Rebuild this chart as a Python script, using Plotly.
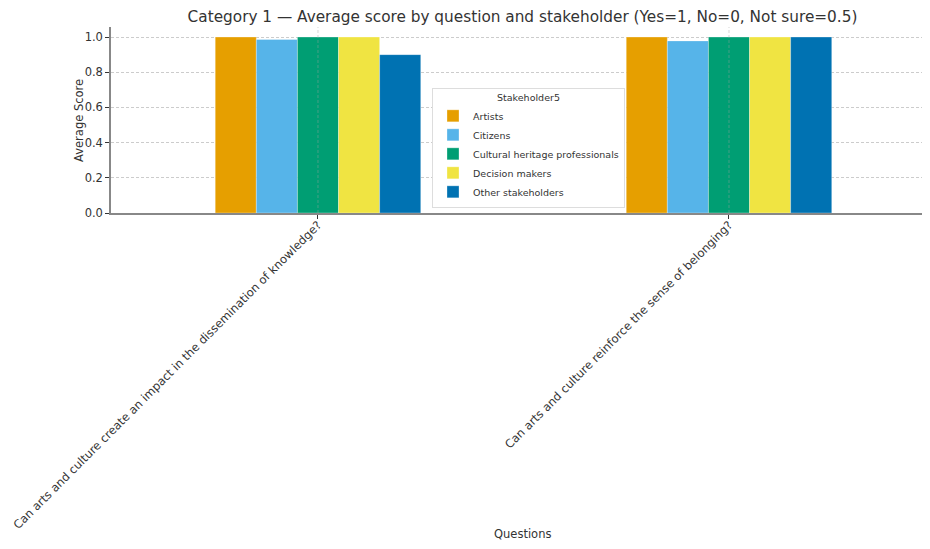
import plotly.graph_objects as go

questions = [
    "Can arts and culture create an impact in the dissemination of knowledge?",
    "Can arts and culture reinforce the sense of belonging?",
]
stakeholders = ["Artists", "Citizens", "Cultural heritage professionals", "Decision makers", "Other stakeholders"]
colors = ["#E69F00", "#56B4E9", "#009E73", "#F0E442", "#0072B2"]
values = {
    "Artists": [1.0, 1.0],
    "Citizens": [0.986, 0.978],
    "Cultural heritage professionals": [1.0, 1.0],
    "Decision makers": [1.0, 1.0],
    "Other stakeholders": [0.9, 1.0],
}

fig = go.Figure()
for s, c in zip(stakeholders, colors):
    fig.add_trace(go.Bar(x=questions, y=values[s], name=s, marker_color=c,
                         marker_line=dict(color="rgba(255,255,255,0.6)", width=0.5)))

# vertical grid lines drawn over bars (as in the reference)
for q in questions:
    fig.add_shape(type="line", xref="x", yref="paper", x0=q, x1=q, y0=0, y1=1,
                  line=dict(color="rgba(160,160,160,0.55)", width=0.8, dash="3px,2px"), layer="above")

fig.update_layout(
    width=914, height=533,
    paper_bgcolor="white", plot_bgcolor="white",
    font=dict(family="DejaVu Sans", color="#333333", size=11),
    margin=dict(l=103, r=0, t=19, b=328, autoexpand=False),
    barmode="group", bargap=0.5, bargroupgap=0,
    title=dict(text="Category 1 — Average score by question and stakeholder (Yes=1, No=0, Not sure=0.5)",
               xref="paper", x=0.5074, xanchor="center", yref="container", y=0.983, yanchor="middle",
               font=dict(size=15.3, color="#333333")),
    legend=dict(x=0.3958, y=0.027, xanchor="left", yanchor="bottom",
                bgcolor="white", bordercolor="#dddddd", borderwidth=1,
                font=dict(size=9.5), title=dict(text="Stakeholder5", side="top center", font=dict(size=9.5)),
                itemwidth=30, tracegroupgap=0),
    showlegend=True,
    annotations=[
        dict(text="Questions", xref="paper", yref="paper", x=0.5074, y=-1.763, yshift=-2,
             xanchor="center", yanchor="bottom", showarrow=False, font=dict(size=11.5)),
        dict(text="Average Score", xref="paper", yref="paper", x=-0.0395, y=0.5,
             xanchor="center", yanchor="middle", textangle=-90, showarrow=False, font=dict(size=11.5)),
    ],
)
fig.update_xaxes(
    automargin=False, tickangle=-45, range=[-0.5036, 1.4696],
    showgrid=False, ticklabelstandoff=-5,
    showline=True, linecolor="#888888", linewidth=1.5,
    ticks="outside", ticklen=4, tickcolor="#333333", tickfont=dict(size=11.6),
)
fig.update_yaxes(
    automargin=False,
    range=[0, 1.057], tickvals=[0, 0.2, 0.4, 0.6, 0.8, 1.0],
    ticktext=["0.0", "0.2", "0.4", "0.6", "0.8", "1.0"],
    showgrid=True, gridcolor="#cccccc", griddash="3px,2px", gridwidth=0.8,
    showline=True, linecolor="#888888", linewidth=1.5, zeroline=False,
    ticks="outside", ticklen=4, tickcolor="#333333", tickfont=dict(size=11.5),
)
fig.write_html("out.html")
